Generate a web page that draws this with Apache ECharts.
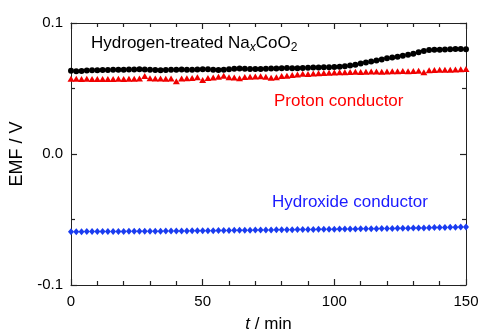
<!DOCTYPE html>
<html>
<head>
<meta charset="utf-8">
<script src="https://cdn.jsdelivr.net/npm/echarts@6/dist/echarts.min.js"></script>
<style>
  html, body { margin: 0; padding: 0; background: #fff; }
  #chart { width: 481px; height: 332px; }
</style>
</head>
<body>
<div id="chart"></div>
<script>
// time axis (min)
const times = [0, 2, 4, 6, 8, 10, 12, 14, 16, 18, 20, 22, 24, 26, 28, 30, 32, 34, 36, 38,
  40, 42, 44, 46, 48, 50, 52, 54, 56, 58, 60, 62, 64, 66, 68, 70, 72, 74, 76, 78,
  80, 82, 84, 86, 88, 90, 92, 94, 96, 98, 100, 102, 104, 106, 108, 110, 112, 114, 116, 118,
  120, 122, 124, 126, 128, 130, 132, 134, 136, 138, 140, 142, 144, 146, 148, 150];

// Hydrogen-treated NaxCoO2 (V)
const hydrogenTreated = [
  0.0636, 0.0632, 0.0634, 0.0637, 0.0639, 0.0640, 0.0641, 0.0642, 0.0643, 0.0643,
  0.0644, 0.0645, 0.0645, 0.0646, 0.0645, 0.0644, 0.0642, 0.0640, 0.0641, 0.0643,
  0.0644, 0.0645, 0.0644, 0.0643, 0.0645, 0.0647, 0.0646, 0.0643, 0.0642, 0.0644,
  0.0646, 0.0650, 0.0652, 0.0651, 0.0649, 0.0648, 0.0648, 0.0650, 0.0652, 0.0653,
  0.0655, 0.0656, 0.0655, 0.0654, 0.0656, 0.0658, 0.0660, 0.0661, 0.0662, 0.0662,
  0.0664, 0.0666, 0.0670, 0.0675, 0.0682, 0.0690, 0.0698, 0.0706, 0.0714, 0.0722,
  0.0730, 0.0737, 0.0743, 0.0750, 0.0758, 0.0766, 0.0776, 0.0786, 0.0793, 0.0795,
  0.0795, 0.0797, 0.0800, 0.0802, 0.0801, 0.0800
];

// Proton conductor (V)
const protonConductor = [
  0.0575, 0.0574, 0.0573, 0.0574, 0.0573, 0.0572, 0.0573, 0.0572, 0.0573, 0.0574,
  0.0573, 0.0574, 0.0575, 0.0576, 0.0595, 0.0578, 0.0577, 0.0576, 0.0575, 0.0577,
  0.0556, 0.0576, 0.0578, 0.0580, 0.0586, 0.0565, 0.0580, 0.0584, 0.0590, 0.0598,
  0.0586, 0.0584, 0.0578, 0.0588, 0.0590, 0.0592, 0.0594, 0.0590, 0.0582, 0.0585,
  0.0595, 0.0598, 0.0603, 0.0606, 0.0612, 0.0610, 0.0614, 0.0616, 0.0618, 0.0620,
  0.0622, 0.0624, 0.0625, 0.0626, 0.0627, 0.0626, 0.0628, 0.0629, 0.0630, 0.0628,
  0.0630, 0.0631, 0.0632, 0.0633, 0.0632, 0.0634, 0.0635, 0.0624, 0.0640, 0.0642,
  0.0643, 0.0643, 0.0644, 0.0645, 0.0646, 0.0648
];

// Hydroxide conductor (V)
const hydroxideConductor = [
  -0.0593, -0.0593, -0.0593, -0.0592, -0.0592, -0.0592, -0.0592, -0.0591, -0.0591, -0.0591,
  -0.0591, -0.0590, -0.0590, -0.0590, -0.0590, -0.0589, -0.0589, -0.0589, -0.0588, -0.0588,
  -0.0588, -0.0587, -0.0587, -0.0586, -0.0586, -0.0586, -0.0585, -0.0585, -0.0584, -0.0584,
  -0.0584, -0.0583, -0.0583, -0.0582, -0.0582, -0.0581, -0.0581, -0.0580, -0.0580, -0.0579,
  -0.0579, -0.0578, -0.0578, -0.0577, -0.0577, -0.0576, -0.0576, -0.0575, -0.0575, -0.0574,
  -0.0574, -0.0573, -0.0573, -0.0572, -0.0572, -0.0571, -0.0571, -0.0570, -0.0570, -0.0569,
  -0.0569, -0.0568, -0.0567, -0.0567, -0.0566, -0.0565, -0.0565, -0.0564, -0.0563, -0.0562,
  -0.0562, -0.0561, -0.0560, -0.0559, -0.0558, -0.0557
];

const pairs = (ys) => times.map((t, i) => [t, ys[i]]);

const font = "Liberation Sans, Arial, sans-serif";
const axisColor = "#222";

const baseAxis = {
  axisLine: { show: true, onZero: false, lineStyle: { color: axisColor, width: 1 } },
  axisTick: { show: true, inside: true, length: 6, lineStyle: { color: axisColor, width: 1.2 } },
  splitLine: { show: false },
  minorSplitLine: { show: false }
};

const chart = echarts.init(document.getElementById("chart"));

const option = {
  animation: false,
  backgroundColor: "#fff",
  grid: { left: 71, right: 15, top: 23, bottom: 47, outerBoundsMode: "none", containLabel: false },
  xAxis: [
    {
      ...baseAxis,
      type: "value",
      min: 0,
      max: 150,
      interval: 50,
      minorTick: { show: true, splitNumber: 5, length: 4, lineStyle: { color: axisColor, width: 1.2 } },
      axisLabel: { color: "#000", fontSize: 15, fontFamily: font, margin: 9 },
      name: "{i|t} / min",
      nameLocation: "middle",
      nameGap: 31,
      nameTextStyle: {
        color: "#000",
        fontSize: 17,
        fontFamily: font,
        rich: {
          i: { fontStyle: "italic", fontSize: 17, fontFamily: font, color: "#000" }
        }
      }
    },
    {
      ...baseAxis,
      type: "value",
      position: "top",
      min: 0,
      max: 150,
      interval: 50,
      minorTick: { show: true, splitNumber: 5, length: 4, lineStyle: { color: axisColor, width: 1.2 } },
      axisLabel: { show: false }
    }
  ],
  yAxis: [
    {
      ...baseAxis,
      type: "value",
      min: -0.1,
      max: 0.1,
      interval: 0.1,
      minorTick: { show: true, splitNumber: 2, length: 4, lineStyle: { color: axisColor, width: 1.2 } },
      axisLabel: {
        color: "#000",
        fontSize: 15,
        fontFamily: font,
        margin: 8,
        formatter: (v) => v.toFixed(1)
      },
      name: "EMF / V",
      nameLocation: "middle",
      nameGap: 35,
      nameTextStyle: { color: "#000", fontSize: 18, fontFamily: font }
    },
    {
      ...baseAxis,
      type: "value",
      position: "right",
      min: -0.1,
      max: 0.1,
      interval: 0.1,
      minorTick: { show: true, splitNumber: 2, length: 4, lineStyle: { color: axisColor, width: 1.2 } },
      axisLabel: { show: false }
    }
  ],
  series: [
    {
      name: "Hydrogen-treated NaxCoO2",
      type: "scatter",
      data: pairs(hydrogenTreated),
      symbol: "circle",
      symbolSize: 6,
      itemStyle: { color: "#000", opacity: 1 }
    },
    {
      name: "Proton conductor",
      type: "scatter",
      data: pairs(protonConductor),
      symbol: "triangle",
      symbolSize: [7, 6],
      itemStyle: { color: "#f00000", opacity: 1 }
    },
    {
      name: "Hydroxide conductor",
      type: "scatter",
      data: pairs(hydroxideConductor),
      symbol: "diamond",
      symbolSize: [6, 7],
      itemStyle: { color: "#1a3cf0", opacity: 1 }
    }
  ],
  graphic: [
    {
      type: "text",
      left: 91,
      top: 35,
      style: {
        text: "{n|Hydrogen-treated Na}{s|x}{n|CoO}{b|2}",
        rich: {
          n: { fontSize: 17, fontFamily: font, fill: "#000", color: "#000" },
          s: { fontSize: 12, fontFamily: font, fontStyle: "italic", fill: "#000", color: "#000", padding: [8, 0, 0, 0] },
          b: { fontSize: 12, fontFamily: font, fill: "#000", color: "#000", padding: [8, 0, 0, 0] }
        }
      }
    },
    {
      type: "text",
      left: 274,
      top: 93,
      style: { text: "Proton conductor", fontSize: 17, fontFamily: font, fill: "#ff0000" }
    },
    {
      type: "text",
      left: 272,
      top: 194,
      style: { text: "Hydroxide conductor", fontSize: 17, fontFamily: font, fill: "#1a1aff" }
    }
  ]
};

chart.setOption(option);
</script>
</body>
</html>
